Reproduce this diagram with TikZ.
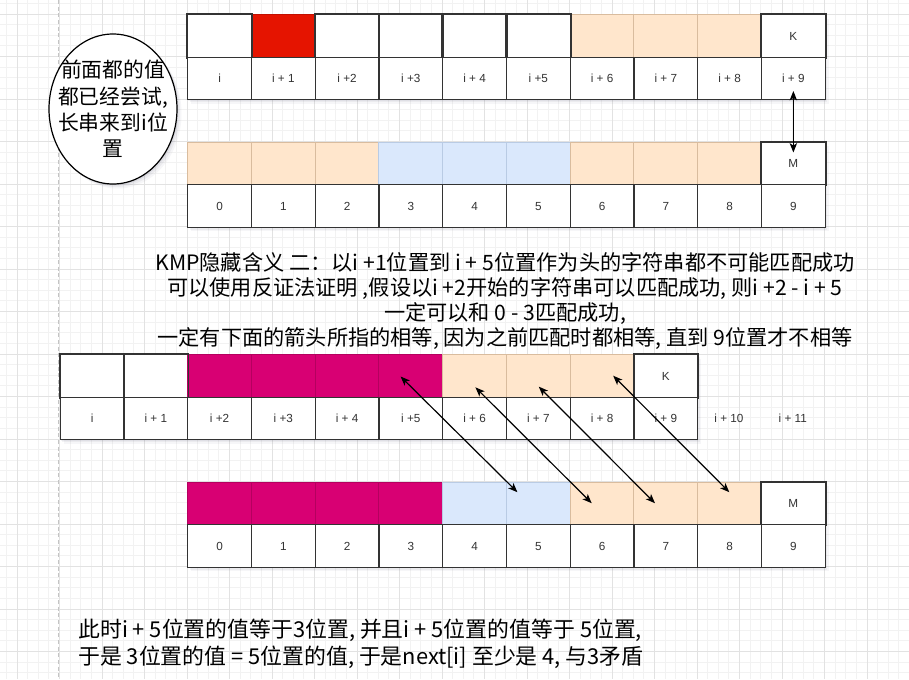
\documentclass[tikz,border=0pt]{standalone}
\usepackage{fontspec}
\setmainfont{Liberation Sans}
\newfontfamily\cjk{Noto Sans CJK SC}
\usetikzlibrary{arrows.meta,calc,shapes.geometric}
\definecolor{gridminor}{HTML}{F2F2F2}
\definecolor{gridmajor}{HTML}{E2E2E2}
\definecolor{pageline}{HTML}{C4C4C4}
\definecolor{cellline}{HTML}{333333}
\definecolor{redfill}{HTML}{E51400}
\definecolor{redline}{HTML}{C21000}
\definecolor{orfill}{HTML}{FFE6CC}
\definecolor{orline}{HTML}{D9BC9E}
\definecolor{blfill}{HTML}{DAE8FC}
\definecolor{blline}{HTML}{B9CBE4}
\definecolor{mgfill}{HTML}{D80073}
\definecolor{mgline}{HTML}{B5005F}
\definecolor{shcol}{HTML}{5A5A78}
\tikzset{
  cellbox/.style={line width=1.1pt, minimum width=47.8125pt, minimum height=31.875pt,
    inner sep=0pt, anchor=north west, text=cellline, text height=1.45ex, text depth=0.2ex,
    font=\fontsize{8.8}{10}\selectfont},
  wc/.style={fill=white, draw=cellline},
  rc/.style={fill=redfill, draw=redline},
  oc/.style={fill=orfill, draw=orline, line width=0.7pt},
  bc/.style={fill=blfill, draw=blline, line width=0.7pt},
  mc/.style={fill=mgfill, draw=mgline, line width=0.7pt},
  wc-b/.style={draw=cellline},
  rc-b/.style={draw=none},
  oc-b/.style={draw=none},
  bc-b/.style={draw=none},
  mc-b/.style={draw=none},
  labelbox/.style={cellbox, draw=cellline, fill=white},
  freelabel/.style={inner sep=0pt, text=cellline, font=\fontsize{8.8}{10}\selectfont},
  dbl/.style={{Stealth[length=7pt,width=5.5pt,inset=1.8pt]}-{Stealth[length=7pt,width=5.5pt,inset=1.8pt]}, line width=0.9pt, black},
  bigtext/.style={inner sep=0pt, font=\cjk\fontsize{15.9}{18.75}\selectfont, text=black},
}
\newcommand{\drawarray}[5]{%
  \foreach \o/\op in {1/0.08,2.5/0.07,4/0.05}
    \fill[shcol,opacity=\op] ({#2+\o},{#3+\o+0.5}) rectangle ({#2+637.5+\o},{#3+85+\o+0.5});
  \foreach \st/\tx [count=\k from 0] in {#4}
    \node[cellbox,\st] (#1t\k) at ({#2+63.75*\k},{#3}) {\tx};
  \foreach \st/\tx [count=\k from 0] in {#4}
    \path[\st-b, line width=1.1pt] (#1t\k.north west) rectangle (#1t\k.south east);
  \foreach \tx [count=\k from 0] in {#5}
    \node[labelbox] (#1b\k) at ({#2+63.75*\k},{#3+42.5}) {\tx};
}
\begin{document}
\begin{tikzpicture}[x=0.75pt,y=-0.75pt]
\useasboundingbox (0,0) rectangle (909,679);
\fill[white] (0,0) rectangle (909,679);
% grid
\foreach \k in {-2,...,86} {
  \draw[gridminor, line width=0.6pt] ({17+10.625*\k},0) -- ({17+10.625*\k},679);
}
\foreach \k in {-3,...,64} {
  \draw[gridminor, line width=0.6pt] (0,{14+10.625*\k}) -- (909,{14+10.625*\k});
}
\foreach \k in {-1,...,22} {
  \draw[gridmajor, line width=0.75pt] ({17+42.5*\k},0) -- ({17+42.5*\k},679);
}
\foreach \k in {-1,...,16} {
  \draw[gridmajor, line width=0.75pt] (0,{14+42.5*\k}) -- (909,{14+42.5*\k});
}
\draw[pageline, dashed, dash pattern=on 3pt off 2pt, line width=0.6pt] (58.5,0) -- (58.5,679);

% ellipse
\foreach \o/\op in {1.5/0.10,3/0.07,4.5/0.05}
  \fill[shcol,opacity=\op] ({113+\o},{109+\o}) ellipse [x radius=64, y radius=75];
\node[ellipse, draw=black, fill=white, line width=0.9pt, minimum width=96pt, minimum height=112.5pt, inner sep=0pt,
  label={[inner sep=0pt, align=center, font=\cjk\fontsize{15.6}{19.8}\selectfont, text=black]center:前面都的值\\都已经尝试,\\长串来到i位\\置}] (ell) at (113,109) {};

% arrays
\drawarray{A}{187}{14}{wc/{},rc/{},wc/{},wc/{},wc/{},wc/{},oc/{},oc/{},oc/{},wc/K}{i,i + 1,i +2,i +3,i + 4,i +5,i + 6,i + 7,i + 8,i + 9}
\drawarray{B}{187}{141.5}{oc/{},oc/{},oc/{},bc/{},bc/{},bc/{},oc/{},oc/{},oc/{},wc/M}{0,1,2,3,4,5,6,7,8,9}
\drawarray{C}{59.5}{354}{wc/{},wc/{},mc/{},mc/{},mc/{},mc/{},oc/{},oc/{},oc/{},wc/K}{i,i + 1,i +2,i +3,i + 4,i +5,i + 6,i + 7,i + 8,i + 9}
\drawarray{D}{187}{481.5}{mc/{},mc/{},mc/{},mc/{},bc/{},bc/{},oc/{},oc/{},oc/{},wc/M}{0,1,2,3,4,5,6,7,8,9}

% free labels i + 10, i + 11
\node[freelabel] (Cx10) at (729,418.5) {i + 10};
\node[freelabel] (Cx11) at (792.8,418.5) {i + 11};

% arrows
\draw[dbl] ([yshift=7.1pt]Ab9.south) -- ([yshift=-8.25pt]Bt9.north);
\draw[dbl] ([xshift=-7.5pt,yshift=-0.6pt]Ct5.center) -- ([xshift=-15.5pt,yshift=8.25pt]Dt5.center);
\draw[dbl] ([xshift=0.8pt,yshift=-8.7pt]Ct6.center) -- ([xshift=-7.6pt]Dt6.center);
\draw[dbl] ([xshift=0.5pt,yshift=-8.2pt]Ct7.center) -- ([xshift=-7.95pt]Dt7.center);
\draw[dbl] ([xshift=8.5pt]Ct8.center) -- ([yshift=8.25pt]Dt8.center);

% main explanation text
\node[bigtext, align=center] (expl) at (505,301) {KMP隐藏含义 二：以i +1位置到 i + 5位置作为头的字符串都不可能匹配成功\\可以使用反证法证明 ,假设以i +2开始的字符串可以匹配成功, 则i +2 - i + 5\\一定可以和 0 - 3匹配成功,\\一定有下面的箭头所指的相等, 因为之前匹配时都相等, 直到 9位置才不相等};

% bottom text
\node[bigtext, align=left, anchor=west, font=\cjk\fontsize{16.4}{20.25}\selectfont] (concl) at (78,643.5) {此时i + 5位置的值等于3位置, 并且i + 5位置的值等于 5位置,\\于是 3位置的值 = 5位置的值, 于是next[i] 至少是 4, 与3矛盾};
\end{tikzpicture}
\end{document}
